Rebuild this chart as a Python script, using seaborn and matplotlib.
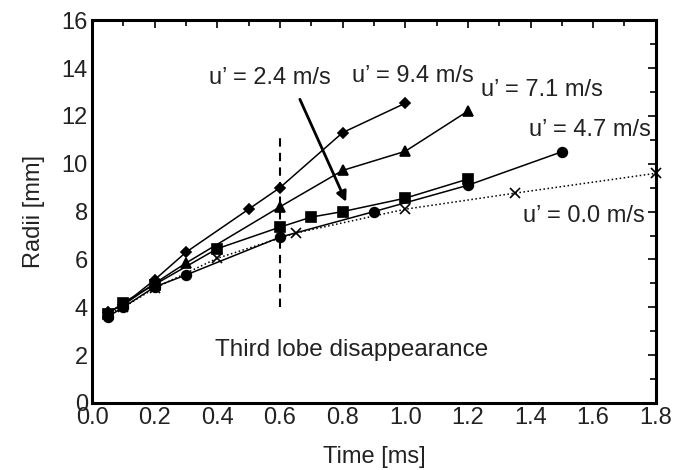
import matplotlib
matplotlib.use("Agg")
import matplotlib.pyplot as plt
import seaborn as sns
import pandas as pd
from matplotlib.ticker import MultipleLocator

sns.set_theme(style="white")
plt.rcParams['font.family'] = ['Liberation Sans', 'DejaVu Sans']

# Data
t_94 = [0.05, 0.1, 0.2, 0.3, 0.5, 0.6, 0.8, 1.0]
r_94 = [3.8, 4.1, 5.15, 6.3, 8.1, 9.0, 11.3, 12.53]

t_71 = [0.05, 0.1, 0.2, 0.3, 0.6, 0.8, 1.0, 1.2]
r_71 = [3.8, 4.1, 5.0, 5.85, 8.2, 9.72, 10.52, 12.2]

t_47 = [0.05, 0.1, 0.2, 0.3, 0.6, 0.9, 1.2, 1.5]
r_47 = [3.6, 4.0, 4.85, 5.35, 6.93, 8.0, 9.1, 10.5]

t_24 = [0.05, 0.1, 0.2, 0.4, 0.6, 0.7, 0.8, 1.0, 1.2]
r_24 = [3.7, 4.2, 4.95, 6.45, 7.35, 7.77, 8.0, 8.56, 9.36]

t_00 = [0.05, 0.1, 0.2, 0.4, 0.65, 1.0, 1.35, 1.8]
r_00 = [3.7, 4.0, 4.8, 6.05, 7.1, 8.1, 8.77, 9.6]

series = [
    ("u' = 9.4 m/s", t_94, r_94, "D", "-", 5.5),
    ("u' = 7.1 m/s", t_71, r_71, "^", "-", 7),
    ("u' = 4.7 m/s", t_47, r_47, "o", "-", 7),
    ("u' = 2.4 m/s", t_24, r_24, "s", "-", 6.5),
    ("u' = 0.0 m/s", t_00, r_00, "x", ":", 7),
]

labels_txt = ["u\u2019 = 2.4 m/s", "u\u2019 = 9.4 m/s", "u\u2019 = 7.1 m/s", "u\u2019 = 4.7 m/s", "u\u2019 = 0.0 m/s"]
labels_x = [0.569, 1.026, 1.435, 1.59, 1.57]
labels_y = [13.6, 13.65, 13.1, 11.4, 7.8]

xticks = [0.0, 0.2, 0.4, 0.6, 0.8, 1.0, 1.2, 1.4, 1.6, 1.8]
yticks = [0, 2, 4, 6, 8, 10, 12, 14, 16]

fig = plt.figure(figsize=(6.74, 4.70), dpi=100)
ax = fig.add_axes([0.1365, 0.1426, 0.8365, 0.8144])

for name, t, r, m, ls, ms in series:
    df = pd.DataFrame({"Time": t, "Radii": r})
    sns.lineplot(data=df, x="Time", y="Radii", ax=ax, color="black", linestyle=ls,
                 marker=m, markersize=ms, markeredgecolor="black", markeredgewidth=1.2,
                 linewidth=1.1, sort=False, estimator=None, clip_on=False)

# vertical dashed line at third lobe disappearance
ax.plot([0.6, 0.6], [4.0, 11.1], color="black", linestyle=(0, (4, 3)), linewidth=1.5)

# arrow for u' = 2.4
ax.annotate("", xy=(0.815, 8.3), xytext=(0.66, 12.8),
            arrowprops=dict(arrowstyle="-|>", color="black", lw=2, mutation_scale=15))

for txt, lx, ly in zip(labels_txt, labels_x, labels_y):
    ax.text(lx, ly, txt, ha="center", va="center", fontsize=17, color="#222222")

ax.text(0.393, 2.2, "Third lobe disappearance", ha="left", va="center", fontsize=17.5, color="#222222")

ax.set_xlim(0, 1.8)
ax.set_ylim(0, 16)
ax.set_xticks(xticks)
ax.set_xticklabels([f"{v:.1f}" for v in xticks])
ax.set_yticks(yticks)
ax.set_yticklabels([str(v) for v in yticks])
ax.xaxis.set_minor_locator(MultipleLocator(0.1))
ax.yaxis.set_minor_locator(MultipleLocator(1))
ax.tick_params(which="both", direction="in", top=True, right=True, color="black")
ax.tick_params(which="major", length=6, width=1.2, labelsize=17, labelcolor="#222222", pad=3)
ax.tick_params(which="minor", length=4, width=1.2)
for s in ax.spines.values():
    s.set_color("black")
    s.set_linewidth(2.2)

ax.set_xlabel("Time [ms]", fontsize=17, color="#222222", labelpad=12)
ax.set_ylabel("Radii [mm]", fontsize=17, color="#222222", labelpad=12)
ax.legend_ = None

fig.savefig("out.png", dpi=100)
